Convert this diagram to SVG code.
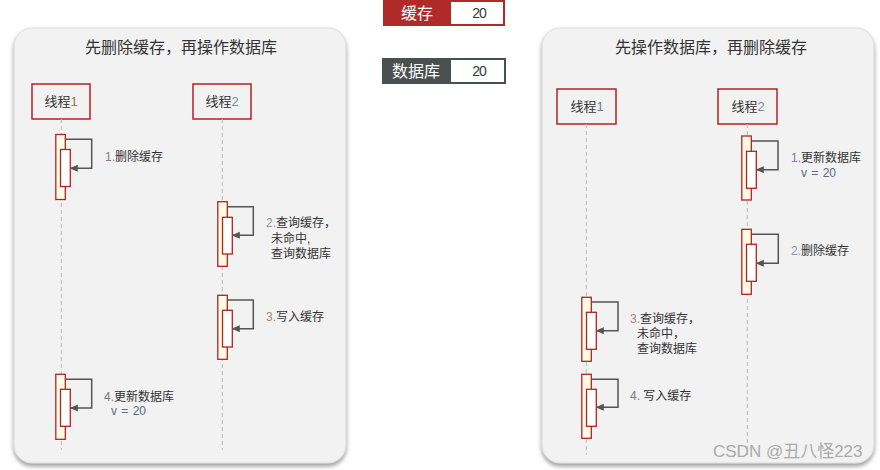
<svg xmlns="http://www.w3.org/2000/svg" width="880" height="470" viewBox="0 0 880 470">
<defs>
<filter id="sh" x="-5%" y="-5%" width="110%" height="110%">
<feDropShadow dx="0" dy="3" stdDeviation="2" flood-color="#777" flood-opacity="0.7"/>
</filter>
<marker id="ah" markerWidth="8" markerHeight="8" refX="7" refY="4" orient="auto" markerUnits="userSpaceOnUse">
<path d="M0,0.5 L8,4 L0,7.5 z" fill="#555"/>
</marker>
</defs>
<style>
text{font-family:"Liberation Sans","Noto Sans CJK SC",sans-serif;}
.panel{fill:#f2f2f2;stroke:#dcdcdc;stroke-width:1;}
.title{font-size:16px;fill:#333;text-anchor:middle;}
.thread rect{fill:#f2f2f2;stroke:#b22222;stroke-width:1.5;}
.thread text{font-size:13px;fill:#333;text-anchor:middle;}
.life{stroke:#bbb;stroke-width:1;stroke-dasharray:4 3;fill:none;}
.outer{fill:#fffde3;stroke:#b22222;stroke-width:1.3;}
.inner{fill:#fff;stroke:#b22222;stroke-width:1.3;}
.msg{fill:none;stroke:#555;stroke-width:1.5;marker-end:url(#ah);}
.lbl{font-size:12px;fill:#333;}
.n1{fill:#8a73a8;}
.n2{fill:#8a96a6;}
.n3{fill:#a08a70;}
.n4{fill:#7a7a7a;}
.v{fill:#5a6a82;}
.wm{font-size:17px;fill:#aaa;}
</style>

<g id="legend-cache">
<rect x="383" y="0" width="122" height="26" fill="#b02a2a"/>
<rect x="451" y="2" width="52" height="22" fill="#fff"/>
<text x="417" y="19" font-size="16" fill="#fff" text-anchor="middle">缓存</text>
<text x="479" y="18" font-size="14" fill="#2e3a46" text-anchor="middle" letter-spacing="-1">20</text>
</g>
<g id="legend-db">
<rect x="382" y="58" width="124" height="26" fill="#4a5050"/>
<rect x="451" y="60" width="53" height="22" fill="#fff"/>
<text x="416" y="77" font-size="16" fill="#fff" text-anchor="middle">数据库</text>
<text x="479" y="76" font-size="14" fill="#2e3a46" text-anchor="middle" letter-spacing="-1">20</text>
</g>

<g id="panel-left">
<rect class="panel" x="14" y="28" width="332" height="435" rx="18" filter="url(#sh)"/>
<text class="title" x="181" y="53">先删除缓存，再操作数据库</text>
</g>
<g id="panel-right">
<rect class="panel" x="542" y="28" width="332" height="435" rx="18" filter="url(#sh)"/>
<text class="title" x="711" y="53">先操作数据库，再删除缓存</text>
</g>

<g id="L-thread1" class="thread">
<rect x="32" y="84" width="58" height="35"/>
<text x="61" y="106">线程<tspan fill="#9a7a5a">1</tspan></text>
</g>
<g id="L-thread2" class="thread">
<rect x="193" y="84" width="58" height="35"/>
<text x="222" y="106">线程<tspan fill="#7a8aa0">2</tspan></text>
</g>
<g id="R-thread1" class="thread">
<rect x="557" y="89" width="59" height="35"/>
<text x="587" y="111">线程<tspan fill="#6a7a9a">1</tspan></text>
</g>
<g id="R-thread2" class="thread">
<rect x="718" y="89" width="59" height="35"/>
<text x="748" y="111">线程<tspan fill="#7a8a9a">2</tspan></text>
</g>

<g id="lifelines">
<line class="life" x1="61.3" y1="119" x2="61.3" y2="450"/>
<line class="life" x1="222.3" y1="119" x2="222.3" y2="450"/>
<line class="life" x1="586.3" y1="124" x2="586.3" y2="455"/>
<line class="life" x1="747.3" y1="124" x2="747.3" y2="455"/>
</g>

<g id="L-act1">
<rect class="outer" x="55.8" y="134.5" width="9.5" height="65"/>
<rect class="inner" x="60.5" y="149.5" width="9.8" height="37"/>
<text class="lbl" x="105" y="161"><tspan class="n1">1.</tspan>删除缓存</text>
</g>
<g id="L-act2">
<rect class="outer" x="217.8" y="201.7" width="9.5" height="64.6"/>
<rect class="inner" x="222.5" y="217.3" width="9.8" height="36.7"/>
<text class="lbl" x="266" y="227"><tspan class="n2">2.</tspan>查询缓存，</text>
<text class="lbl" x="271" y="243">未命中,</text>
<text class="lbl" x="271" y="258">查询数据库</text>
</g>
<g id="L-act3">
<rect class="outer" x="217.8" y="295.3" width="9.5" height="64"/>
<rect class="inner" x="222.5" y="310.3" width="9.8" height="36.7"/>
<text class="lbl" x="266" y="321"><tspan class="n3">3.</tspan>写入缓存</text>
</g>
<g id="L-act4">
<rect class="outer" x="55.8" y="374.3" width="9.5" height="65"/>
<rect class="inner" x="60.5" y="389.3" width="9.8" height="37"/>
<text class="lbl" x="104" y="401"><tspan class="n4">4.</tspan>更新数据库</text>
<text class="lbl v" x="111" y="415" word-spacing="1">v = 20</text>
</g>

<g id="R-act1">
<rect class="outer" x="741.8" y="136" width="9.5" height="64"/>
<rect class="inner" x="746.5" y="151.3" width="9.8" height="37"/>
<text class="lbl" x="791" y="162"><tspan class="n1">1.</tspan>更新数据库</text>
<text class="lbl v" x="801" y="176.5" word-spacing="1">v = 20</text>
</g>
<g id="R-act2">
<rect class="outer" x="741.8" y="229.3" width="9.5" height="65"/>
<rect class="inner" x="746.5" y="244.3" width="9.8" height="37"/>
<text class="lbl" x="791" y="254.5"><tspan class="n2">2.</tspan>删除缓存</text>
</g>
<g id="R-act3">
<rect class="outer" x="581.8" y="297.3" width="9.5" height="64"/>
<rect class="inner" x="586.5" y="312.3" width="9.8" height="37"/>
<text class="lbl" x="630" y="323"><tspan class="n3">3.</tspan>查询缓存，</text>
<text class="lbl" x="637" y="338">未命中，</text>
<text class="lbl" x="637" y="353">查询数据库</text>
</g>
<g id="R-act4">
<rect class="outer" x="581.8" y="374.3" width="9.5" height="64"/>
<rect class="inner" x="586.5" y="389.3" width="9.8" height="37"/>
<text class="lbl" x="630" y="399.5"><tspan class="n4">4.</tspan> 写入缓存</text>
</g>

<g id="connectors">
<polyline class="msg" points="65.3,139.3 91.7,139.3 91.7,168.3 70.8,168.3"/>
<polyline class="msg" points="227.3,206.7 253.3,206.7 253.3,235.3 232.8,235.3"/>
<polyline class="msg" points="227.3,300 253.3,300 253.3,328.7 232.8,328.7"/>
<polyline class="msg" points="65.3,379.3 91.7,379.3 91.7,408 70.8,408"/>
<polyline class="msg" points="751.3,141 778,141 778,169.7 756.8,169.7"/>
<polyline class="msg" points="751.3,234.3 778.3,234.3 778.3,263.3 756.8,263.3"/>
<polyline class="msg" points="591.3,302 618,302 618,330.7 596.8,330.7"/>
<polyline class="msg" points="591.3,379.3 618,379.3 618,407.3 596.8,407.3"/>
</g>

<text class="wm" x="713" y="457">CSDN @丑八怪223</text>
</svg>
